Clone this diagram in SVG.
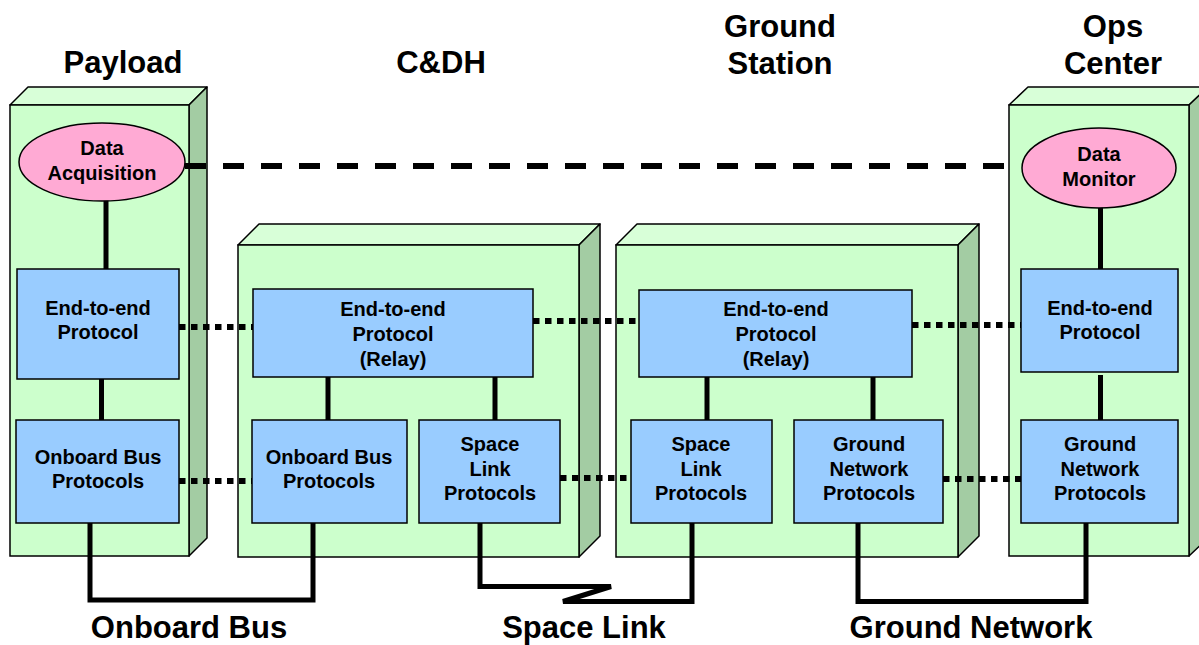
<svg xmlns="http://www.w3.org/2000/svg" width="1199" height="645" viewBox="0 0 1199 645">
<style>
.front{fill:#CCFFCC;stroke:#000;stroke-width:1.5}
.top{fill:#D8FFD8;stroke:#000;stroke-width:1.5;stroke-linejoin:round}
.side{fill:#A3CCA3;stroke:#000;stroke-width:1.5;stroke-linejoin:round}
.proto{fill:#99CCFF;stroke:#000;stroke-width:1.5}
.ell{fill:#FFAAD4;stroke:#000;stroke-width:1.5}
.t{font-family:"Liberation Sans",Arial,sans-serif;font-weight:bold;font-size:20px;text-anchor:middle;fill:#000}
.h{font-family:"Liberation Sans",Arial,sans-serif;font-weight:bold;font-size:31px;text-anchor:middle;fill:#000}
.solid{stroke:#000;stroke-width:5;fill:none;stroke-linejoin:miter}
.dot{stroke:#000;stroke-width:6;fill:none;stroke-dasharray:6.5 5.5}
.dash{stroke:#000;stroke-width:6;fill:none;stroke-dasharray:21 17}
</style>

<g id="titles">
<text class="h" x="123" y="73">Payload</text>
<text class="h" x="441" y="73">C&amp;DH</text>
<text class="h" x="780" y="37">Ground</text>
<text class="h" x="780" y="74">Station</text>
<text class="h" x="1113" y="37">Ops</text>
<text class="h" x="1113" y="74">Center</text>
<text class="h" x="189" y="638">Onboard Bus</text>
<text class="h" x="584" y="638">Space Link</text>
<text class="h" x="971" y="638">Ground Network</text>
</g>

<g id="payload">
<polygon class="top" points="10,105 28,87 207,87 189,105"/>
<polygon class="side" points="189,105 207,87 207,538 189,556"/>
<rect class="front" x="10" y="105" width="179" height="451"/>
</g>
<g id="cdh">
<polygon class="top" points="238,245 259,224 600,224 579,245"/>
<polygon class="side" points="579,245 600,224 600,536 579,557"/>
<rect class="front" x="238" y="245" width="341" height="312"/>
</g>
<g id="ground-station">
<polygon class="top" points="616,245 637,224 979,224 958,245"/>
<polygon class="side" points="958,245 979,224 979,536 958,557"/>
<rect class="front" x="616" y="245" width="342" height="312"/>
</g>
<g id="ops-center">
<polygon class="top" points="1009,105 1028,87 1208,87 1189,105"/>
<polygon class="side" points="1189,105 1208,87 1208,538 1189,556"/>
<rect class="front" x="1009" y="105" width="180" height="451"/>
</g>

<g id="connectors">
<line class="dash" x1="185" y1="166" x2="1021" y2="166"/>
<line class="solid" x1="106" y1="200" x2="106" y2="269"/>
<line class="solid" x1="101.5" y1="379" x2="101.5" y2="420"/>
<line class="solid" x1="1100.5" y1="207" x2="1100.5" y2="269"/>
<line class="solid" x1="1100.5" y1="375" x2="1100.5" y2="420"/>
<line class="solid" x1="328" y1="377" x2="328" y2="420"/>
<line class="solid" x1="495" y1="377" x2="495" y2="420"/>
<line class="solid" x1="707" y1="377" x2="707" y2="420"/>
<line class="solid" x1="873" y1="377" x2="873" y2="420"/>
<line class="dot" x1="179" y1="327" x2="253" y2="327"/>
<line class="dot" x1="533" y1="321" x2="639" y2="321"/>
<line class="dot" x1="912" y1="325" x2="1021" y2="325"/>
<line class="dot" x1="179" y1="481" x2="252" y2="481"/>
<line class="dot" x1="560" y1="478" x2="631" y2="478"/>
<line class="dot" x1="943" y1="479" x2="1021" y2="479"/>
<polyline class="solid" points="90,523 90,600 313,600 313,523"/>
<polyline class="solid" points="480,523 480,586.5 611,586.5 563,601.5 692,601.5 692,523"/>
<polyline class="solid" points="858,523 858,601.5 1086,601.5 1086,523"/>
</g>

<g id="data-acquisition">
<ellipse class="ell" cx="102" cy="162" rx="83" ry="39"/>
<text class="t" x="102" y="155">Data</text>
<text class="t" x="102" y="180">Acquisition</text>
</g>
<g id="payload-e2e">
<rect class="proto" x="17" y="269" width="162" height="110"/>
<text class="t" x="98" y="315">End-to-end</text>
<text class="t" x="98" y="339">Protocol</text>
</g>
<g id="payload-obp">
<rect class="proto" x="16" y="420" width="163" height="103"/>
<text class="t" x="98" y="464">Onboard Bus</text>
<text class="t" x="98" y="488">Protocols</text>
</g>
<g id="cdh-relay">
<rect class="proto" x="253" y="289" width="280" height="88"/>
<text class="t" x="393" y="316">End-to-end</text>
<text class="t" x="393" y="341">Protocol</text>
<text class="t" x="393" y="366">(Relay)</text>
</g>
<g id="cdh-obp">
<rect class="proto" x="252" y="420" width="155" height="103"/>
<text class="t" x="329" y="464">Onboard Bus</text>
<text class="t" x="329" y="488">Protocols</text>
</g>
<g id="cdh-slp">
<rect class="proto" x="419" y="420" width="141" height="103"/>
<text class="t" x="490" y="451">Space</text>
<text class="t" x="490" y="476">Link</text>
<text class="t" x="490" y="500">Protocols</text>
</g>
<g id="gs-relay">
<rect class="proto" x="639" y="290" width="273" height="87"/>
<text class="t" x="776" y="316">End-to-end</text>
<text class="t" x="776" y="341">Protocol</text>
<text class="t" x="776" y="366">(Relay)</text>
</g>
<g id="gs-slp">
<rect class="proto" x="631" y="420" width="141" height="103"/>
<text class="t" x="701" y="451">Space</text>
<text class="t" x="701" y="476">Link</text>
<text class="t" x="701" y="500">Protocols</text>
</g>
<g id="gs-gnp">
<rect class="proto" x="794" y="420" width="149" height="103"/>
<text class="t" x="869" y="451">Ground</text>
<text class="t" x="869" y="476">Network</text>
<text class="t" x="869" y="500">Protocols</text>
</g>
<g id="data-monitor">
<ellipse class="ell" cx="1099" cy="168" rx="77" ry="40"/>
<text class="t" x="1099" y="161">Data</text>
<text class="t" x="1099" y="186">Monitor</text>
</g>
<g id="ops-e2e">
<rect class="proto" x="1021" y="269" width="157" height="103"/>
<text class="t" x="1100" y="315">End-to-end</text>
<text class="t" x="1100" y="339">Protocol</text>
</g>
<g id="ops-gnp">
<rect class="proto" x="1021" y="420" width="157" height="103" stroke-width="1"/>
<text class="t" x="1100" y="451">Ground</text>
<text class="t" x="1100" y="476">Network</text>
<text class="t" x="1100" y="500">Protocols</text>
</g>
</svg>
